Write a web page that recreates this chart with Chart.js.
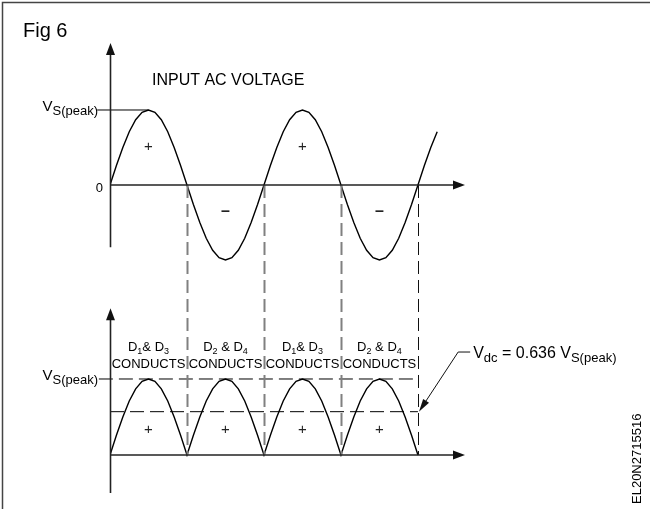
<!DOCTYPE html>
<html>
<head>
<meta charset="utf-8">
<script src="https://cdn.jsdelivr.net/npm/chart.js@4.4.1/dist/chart.umd.min.js"></script>
<style>
  html, body { margin: 0; padding: 0; background: #fff; }
  #fig { display: block; }
</style>
</head>
<body>
<canvas id="fig" width="650" height="509"></canvas>
<script>
// phase of the supply in degrees, one sample every 15 deg
const phaseDeg = [0, 15, 30, 45, 60, 75, 90, 105, 120, 135, 150, 165,
  180, 195, 210, 225, 240, 255, 270, 285, 300, 315, 330, 345,
  360, 375, 390, 405, 420, 435, 450, 465, 480, 495, 510, 525,
  540, 555, 570, 585, 600, 615, 630, 645, 660, 675, 690, 705,
  720, 735, 750, 765];

// input AC voltage, as a fraction of Vs(peak)
const inputVolts = [0, 0.26, 0.5, 0.71, 0.87, 0.97, 1, 0.97, 0.87, 0.71, 0.5, 0.26,
  0, -0.26, -0.5, -0.71, -0.87, -0.97, -1, -0.97, -0.87, -0.71, -0.5, -0.26,
  0, 0.26, 0.5, 0.71, 0.87, 0.97, 1, 0.97, 0.87, 0.71, 0.5, 0.26,
  0, -0.26, -0.5, -0.71, -0.87, -0.97, -1, -0.97, -0.87, -0.71, -0.5, -0.26,
  0, 0.26, 0.5, 0.71];

// full wave rectified output (0 .. 720 deg)
const outputVolts = [0, 0.26, 0.5, 0.71, 0.87, 0.97, 1, 0.97, 0.87, 0.71, 0.5, 0.26,
  0, 0.26, 0.5, 0.71, 0.87, 0.97, 1, 0.97, 0.87, 0.71, 0.5, 0.26,
  0, 0.26, 0.5, 0.71, 0.87, 0.97, 1, 0.97, 0.87, 0.71, 0.5, 0.26,
  0, 0.26, 0.5, 0.71, 0.87, 0.97, 1, 0.97, 0.87, 0.71, 0.5, 0.26,
  0];

const crossings = [180, 360, 540, 720];
const halfCycleMid = [90, 270, 450, 630];
const inputSigns = ['+', '–', '+', '–'];
const diodePairs = [['1', '3'], ['2', '4'], ['1', '3'], ['2', '4']];
const peakLevel = 1;
const vdcLevel = 0.57;   // where the dashed Vdc line sits in the figure

const FONT = '"Liberation Sans", Arial, Helvetica, sans-serif';

function pts(xs, ys) {
  return ys.map((v, i) => ({ x: xs[i], y: v }));
}

// draw text made of pieces, some of them lowered (subscripts)
function richWidth(ctx, parts) {
  let w = 0;
  parts.forEach(p => { ctx.font = p.size + 'px ' + FONT; w += ctx.measureText(p.t).width; });
  return w;
}
function drawRich(ctx, parts, x, y, align) {
  const w = richWidth(ctx, parts);
  let cx = align === 'center' ? x - w / 2 : align === 'right' ? x - w : x;
  ctx.textAlign = 'left';
  ctx.textBaseline = 'alphabetic';
  parts.forEach(p => {
    ctx.font = (p.bold ? 'bold ' : '') + p.size + 'px ' + FONT;
    ctx.fillText(p.t, cx, y + (p.dy || 0));
    cx += ctx.measureText(p.t).width;
  });
}

function arrow(ctx, x1, y1, x2, y2, len, half) {
  const a = Math.atan2(y2 - y1, x2 - x1);
  ctx.beginPath();
  ctx.moveTo(x1, y1);
  ctx.lineTo(x2 - Math.cos(a) * len * 0.8, y2 - Math.sin(a) * len * 0.8);
  ctx.stroke();
  ctx.beginPath();
  ctx.moveTo(x2, y2);
  ctx.lineTo(x2 - Math.cos(a) * len - Math.sin(a) * half, y2 - Math.sin(a) * len + Math.cos(a) * half);
  ctx.lineTo(x2 - Math.cos(a) * len + Math.sin(a) * half, y2 - Math.sin(a) * len - Math.cos(a) * half);
  ctx.closePath();
  ctx.fill();
}

const figPlugin = {
  id: 'figure6',
  beforeDraw(chart) {
    const ctx = chart.ctx;
    ctx.save();
    ctx.fillStyle = '#fff';
    ctx.fillRect(0, 0, chart.width, chart.height);
    // frame
    ctx.strokeStyle = '#444';
    ctx.lineWidth = 1.5;
    ctx.beginPath();
    ctx.moveTo(2.5, chart.height);
    ctx.lineTo(2.5, 2.5);
    ctx.lineTo(chart.width, 2.5);
    ctx.stroke();
    ctx.restore();
  },
  afterDatasetsDraw(chart) {
    const ctx = chart.ctx;
    const xs = chart.scales.x, ya = chart.scales.yA, yb = chart.scales.yB;
    ctx.save();

    // dashed projection lines from the input zero crossings
    crossings.forEach((c, i) => {
      const px = Math.round(xs.getPixelForValue(c)) + 0.5;
      ctx.strokeStyle = i < 3 ? '#808080' : '#111';
      ctx.lineWidth = i < 3 ? 2 : 1;
      ctx.setLineDash([13, 6]);
      ctx.beginPath();
      ctx.moveTo(px, ya.getPixelForValue(0));
      ctx.lineTo(px, yb.getPixelForValue(0));
      ctx.stroke();
    });
    ctx.setLineDash([]);

    // axes with arrow heads
    ctx.strokeStyle = '#222';
    ctx.fillStyle = '#111';
    ctx.lineWidth = 1.6;
    const ax = Math.round(xs.getPixelForValue(0)) + 0.5;
    arrow(ctx, ax, ya.getPixelForValue(-0.83), ax, ya.getPixelForValue(ya.max), 12, 4.5);
    arrow(ctx, ax, ya.getPixelForValue(0), xs.getPixelForValue(xs.max), ya.getPixelForValue(0), 12, 4.5);
    arrow(ctx, ax, yb.getPixelForValue(yb.min), ax, yb.getPixelForValue(1.93), 12, 4.5);
    arrow(ctx, ax, yb.getPixelForValue(0), xs.getPixelForValue(xs.max), yb.getPixelForValue(0), 12, 4.5);

    ctx.fillStyle = '#000';
    // titles
    drawRich(ctx, [{ t: 'Fig 6', size: 20 }], 23, 37, 'left');
    drawRich(ctx, [{ t: 'INPUT AC VOLTAGE', size: 16 }], 152, 85, 'left');

    // axis labels
    const lblRight = xs.getPixelForValue(0) - 12;
    drawRich(ctx, [{ t: 'V', size: 15 }, { t: 'S(peak)', size: 13, dy: 4 }], lblRight, ya.getPixelForValue(peakLevel) + 1, 'right');
    drawRich(ctx, [{ t: '0', size: 13 }], xs.getPixelForValue(0) - 7, ya.getPixelForValue(0) + 7, 'right');
    drawRich(ctx, [{ t: 'V', size: 15 }, { t: 'S(peak)', size: 13, dy: 4 }], lblRight, yb.getPixelForValue(peakLevel) + 1, 'right');

    // polarity marks
    halfCycleMid.forEach((m, i) => {
      const px = xs.getPixelForValue(m);
      ctx.fillStyle = '#222';
      if (inputSigns[i] === '+') {
        drawRich(ctx, [{ t: '+', size: 15 }], px, ya.getPixelForValue(0.45), 'center');
      } else {
        drawRich(ctx, [{ t: '–', size: 16, bold: true }], px, ya.getPixelForValue(-0.41), 'center');
      }
      drawRich(ctx, [{ t: '+', size: 15 }], px, yb.getPixelForValue(0.27), 'center');
    });
    ctx.fillStyle = '#000';

    // diode conduction labels
    halfCycleMid.forEach((m, i) => {
      const px = xs.getPixelForValue(m);
      const d = diodePairs[i];
      const sep = i % 2 === 0 ? '& D' : ' & D';
      drawRich(ctx, [{ t: 'D', size: 13 }, { t: d[0], size: 9, dy: 3 }, { t: sep, size: 13 }, { t: d[1], size: 9, dy: 3 }],
        px, yb.getPixelForValue(1.37), 'center');
      drawRich(ctx, [{ t: 'CONDUCTS', size: 13 }], px, yb.getPixelForValue(1.14), 'center');
    });

    // Vdc callout
    const tipX = xs.getPixelForValue(720), tipY = yb.getPixelForValue(vdcLevel);
    const elbX = xs.getPixelForValue(814), elbY = yb.getPixelForValue(1.355);
    ctx.strokeStyle = '#111';
    ctx.fillStyle = '#111';
    ctx.lineWidth = 1;
    ctx.beginPath();
    ctx.moveTo(elbX + 12, elbY);
    ctx.lineTo(elbX, elbY);
    ctx.stroke();
    arrow(ctx, elbX, elbY, tipX + 1, tipY, 13, 3.5);
    ctx.fillStyle = '#000';
    drawRich(ctx, [{ t: 'V', size: 16 }, { t: 'dc', size: 13, dy: 4 }, { t: ' = 0.636 V', size: 16 }, { t: 'S(peak)', size: 13, dy: 4 }],
      elbX + 15, elbY + 6, 'left');

    // drawing number, rotated
    ctx.translate(641, 504);
    ctx.rotate(-Math.PI / 2);
    drawRich(ctx, [{ t: 'EL20N2715516', size: 13 }], 0, 0, 'left');
    ctx.restore();
  }
};

const lineStyle = { borderColor: '#000', borderWidth: 1.4, pointRadius: 0, showLine: true, fill: false, tension: 0 };

new Chart(document.getElementById('fig'), {
  type: 'scatter',
  data: {
    datasets: [
      Object.assign({ label: 'Input AC voltage', data: pts(phaseDeg, inputVolts), yAxisID: 'yA' }, lineStyle),
      Object.assign({ label: 'Rectified output', data: pts(phaseDeg, outputVolts), yAxisID: 'yB' }, lineStyle),
      Object.assign({}, lineStyle, { label: 'Vs(peak) input', data: [{ x: -30, y: peakLevel }, { x: 90, y: peakLevel }], yAxisID: 'yA', borderWidth: 1, clip: false }),
      Object.assign({}, lineStyle, { label: 'Vs(peak) output', data: [{ x: -26, y: peakLevel }, { x: 720, y: peakLevel }], yAxisID: 'yB', borderWidth: 1, borderDash: [14, 6], clip: false }),
      Object.assign({}, lineStyle, { label: 'Vdc', data: [{ x: 0, y: vdcLevel }, { x: 720, y: vdcLevel }], yAxisID: 'yB', borderWidth: 1, borderDash: [14, 6] })
    ]
  },
  options: {
    responsive: false,
    animation: false,
    devicePixelRatio: 1,
    layout: { padding: { left: 110, right: 185, top: 43, bottom: 16 } },
    plugins: { legend: { display: false }, tooltip: { enabled: false } },
    scales: {
      x: { type: 'linear', min: 0, max: 830, display: false },
      yA: { type: 'linear', position: 'left', min: -4.1067, max: 1.8933, display: false },
      yB: { type: 'linear', position: 'left', min: -0.5, max: 5.421, display: false }
    }
  },
  plugins: [figPlugin]
});
</script>
</body>
</html>
